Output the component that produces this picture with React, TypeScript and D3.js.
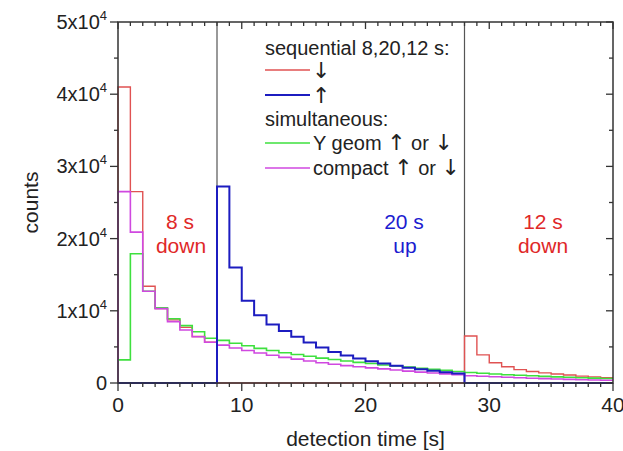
import React from "react";
import * as d3 from "d3";

const W = 623;
const H = 451;
const M = { left: 118, right: 10, top: 22, bottom: 68 };

// histogram values per 1-s bin (bins 0..39)
const redSeq = [
  41000, 26500, 13400, 10300, 8750, 7700, 6450, 5650,
  0, 0, 0, 0, 0, 0, 0, 0, 0, 0, 0, 0, 0, 0, 0, 0, 0, 0, 0, 0,
  6500, 3900, 2800, 2250, 1850, 1600, 1400, 1250, 1100, 950, 850, 750,
];
const blueSeq = [
  0, 0, 0, 0, 0, 0, 0, 0,
  27200, 16000, 11400, 9400, 8100, 7200, 6400, 5600, 4900, 4300, 3800, 3400,
  3000, 2700, 2400, 2100, 1900, 1700, 1500, 1300,
  0, 0, 0, 0, 0, 0, 0, 0, 0, 0, 0, 0,
];
const greenSim = [
  3200, 17900, 12700, 10400, 8900, 7950, 7100, 6200,
  5900, 5500, 5150, 4800, 4500, 4200, 3950, 3700, 3450, 3250, 3050, 2850,
  2700, 2500, 2350, 2200, 2050, 1900, 1750, 1600,
  1450, 1350, 1250, 1150, 1070, 1000, 920, 850, 790, 730, 680, 630,
];
const magentaSim = [
  26500, 20900, 12700, 10300, 8500, 7350, 6400, 5650,
  5250, 4850, 4500, 4150, 3850, 3550, 3300, 3050, 2800, 2600, 2400, 2250,
  2100, 1950, 1800, 1650, 1500, 1380, 1260, 1150,
  1000, 930, 860, 790, 720, 660, 600, 550, 500, 460, 420, 380,
];

const xTicks = [0, 10, 20, 30, 40];
const yTicks = [0, 1, 2, 3, 4, 5];
const switchTimes = [8, 28];

const FONT = "'Liberation Sans', Arial, Helvetica, sans-serif";
const ARROW_FONT = "'DejaVu Sans', sans-serif";

export default function App() {
  const x = d3.scaleLinear().domain([0, 40]).range([M.left, W - M.right]);
  const y = d3.scaleLinear().domain([0, 50000]).range([H - M.bottom, M.top]);
  const x0 = x(0), x1 = x(40), y0 = y(0), y1 = y(50000);

  const stepPath = (vals: number[]) => {
    const pts: [number, number][] = [[0, 0]];
    vals.forEach((v, i) => pts.push([i, v]));
    pts.push([vals.length, vals[vals.length - 1]]);
    return d3
      .line<[number, number]>()
      .x((d) => x(d[0]))
      .y((d) => y(d[1]))
      .curve(d3.curveStepAfter)(pts) as string;
  };

  const series = [
    { vals: redSeq, color: "#e05252", w: 1.4 },
    { vals: greenSim, color: "#3ee03e", w: 1.6 },
    { vals: magentaSim, color: "#d048e0", w: 1.6 },
    { vals: blueSeq, color: "#1c1cc0", w: 2 },
  ];

  const minorX = d3.range(0, 41, 1);
  const minorY = d3.range(0, 50001, 5000);
  const axisColor = "#333";

  const legendX = 265;
  const lineLen = 45;

  const Arrow = ({ c }: { c: string }) => (
    <tspan fontFamily={ARROW_FONT} fontSize={22}>{c}</tspan>
  );

  return (
    <svg width={W} height={H} style={{ position: "absolute", left: 0, top: 0, background: "#fff" }} fontFamily={FONT}>
      <rect x={0} y={0} width={W} height={H} fill="#fff" />
      {/* switch lines */}
      {switchTimes.map((t) => (
        <line key={t} x1={x(t)} x2={x(t)} y1={y0} y2={y1} stroke="#555" strokeWidth={1.2} />
      ))}
      {/* series */}
      {series.map((s, i) => (
        <path key={i} d={stepPath(s.vals)} fill="none" stroke={s.color} strokeWidth={s.w} />
      ))}
      {/* frame */}
      <rect x={x0} y={y1} width={x1 - x0} height={y0 - y1} fill="none" stroke={axisColor} strokeWidth={1.5} />
      {/* bottom ticks (outward) */}
      {minorX.map((t) => (
        <line key={"bx" + t} x1={x(t)} x2={x(t)} y1={y0} y2={y0 + (t % 10 === 0 ? 8 : 4)} stroke={axisColor} strokeWidth={1.3} />
      ))}
      {/* top ticks (inward) */}
      {minorX.map((t) => (
        <line key={"tx" + t} x1={x(t)} x2={x(t)} y1={y1} y2={y1 + (t % 10 === 0 ? 7 : 4)} stroke={axisColor} strokeWidth={1.3} />
      ))}
      {/* left ticks (outward) */}
      {minorY.map((t) => (
        <line key={"ly" + t} x1={x0} x2={x0 - (t % 10000 === 0 ? 8 : 4)} y1={y(t)} y2={y(t)} stroke={axisColor} strokeWidth={1.3} />
      ))}
      {/* right ticks (inward) */}
      {minorY.map((t) => (
        <line key={"ry" + t} x1={x1} x2={x1 - (t % 10000 === 0 ? 7 : 4)} y1={y(t)} y2={y(t)} stroke={axisColor} strokeWidth={1.3} />
      ))}
      {/* x tick labels */}
      {xTicks.map((t) => (
        <text key={"xl" + t} x={x(t)} y={y0 + 29} textAnchor="middle" fontSize={21} fill="#222">
          {t}
        </text>
      ))}
      {/* y tick labels */}
      {yTicks.map((t) => (
        <text key={"yl" + t} x={x0 - 11} y={y(t * 10000) + 7} textAnchor="end" fontSize={20} fill="#222">
          {t === 0 ? (
            "0"
          ) : (
            <>
              {t + "x10"}
              <tspan fontSize={13} dy={-9}>4</tspan>
            </>
          )}
        </text>
      ))}
      {/* axis titles */}
      <text x={(x0 + x1) / 2} y={446} textAnchor="middle" fontSize={21} fill="#222">
        detection time [s]
      </text>
      <text transform={`translate(38, ${(y0 + y1) / 2}) rotate(-90)`} textAnchor="middle" fontSize={21} fill="#222">
        counts
      </text>
      {/* annotations */}
      <g fontSize={21} textAnchor="middle">
        <text x={180} y={229} fill="#e02828">8 s</text>
        <text x={181} y={253} fill="#e02828">down</text>
        <text x={404} y={229} fill="#1c1cd0">20 s</text>
        <text x={405} y={253} fill="#1c1cd0">up</text>
        <text x={543} y={229} fill="#e02828">12 s</text>
        <text x={543} y={253} fill="#e02828">down</text>
      </g>
      {/* legend */}
      <g fontSize={20} fill="#222">
        <text x={legendX} y={55}>sequential 8,20,12 s:</text>
        <line x1={legendX} x2={legendX + lineLen} y1={70} y2={70} stroke="#e05252" strokeWidth={1.4} />
        <text x={legendX + lineLen + 2} y={78}><Arrow c="↓" /></text>
        <line x1={legendX} x2={legendX + lineLen} y1={95} y2={95} stroke="#1c1cc0" strokeWidth={2} />
        <text x={legendX + lineLen + 2} y={103}><Arrow c="↑" /></text>
        <text x={legendX} y={126}>simultaneous:</text>
        <line x1={legendX} x2={legendX + lineLen} y1={143} y2={143} stroke="#3ee03e" strokeWidth={1.6} />
        <text x={legendX + lineLen + 3} y={150}>Y geom <Arrow c="↑" /> or <Arrow c="↓" /></text>
        <line x1={legendX} x2={legendX + lineLen} y1={168} y2={168} stroke="#d048e0" strokeWidth={1.6} />
        <text x={legendX + lineLen + 3} y={175}>compact <Arrow c="↑" /> or <Arrow c="↓" /></text>
      </g>
    </svg>
  );
}
